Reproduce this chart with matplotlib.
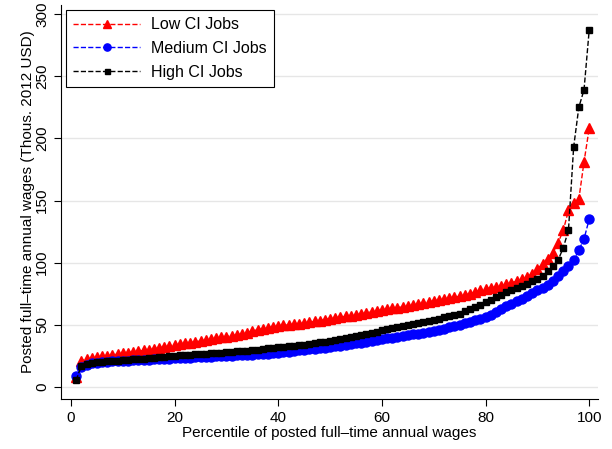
import numpy as np
import matplotlib.pyplot as plt

plt.rcParams['font.family'] = ['Liberation Sans', 'DejaVu Sans']

# percentiles 1..100
pct = list(range(1, 101))

low_ci = [8, 21, 22.5, 23, 24, 24.5, 25, 25.8, 26.4, 27,
          27.6, 28.2, 28.8, 29.4, 30, 30.7, 31.4, 32.1, 33, 33.7,
          34.4, 35, 35.7, 36.3, 37, 37.7, 38.4, 39.1, 39.8, 40.5,
          41.2, 41.9, 42.6, 43.8, 45, 46, 47, 47.8, 48.4, 49,
          49.5, 50, 50.5, 51, 51.5, 52, 52.7, 53.4, 54.2, 55,
          55.6, 56.2, 56.8, 57.4, 58, 58.8, 59.6, 60.4, 61.2, 62,
          62.6, 63.2, 63.8, 64.4, 65, 65.8, 66.6, 67.6, 68.5, 69.2,
          69.9, 70.6, 71.4, 72.2, 73, 74, 75, 76.5, 78, 79,
          79.7, 80.4, 81.2, 82.6, 84, 85, 86.5, 88.5, 91, 95,
          99, 103, 108, 116, 126, 142, 148, 151, 181, 208]

med_ci = [9, 16, 18, 19, 19.5, 20, 20.3, 20.6, 20.8, 21,
          21.2, 21.4, 21.6, 21.8, 22, 22.2, 22.4, 22.6, 22.8, 23,
          23.2, 23.4, 23.6, 23.8, 24, 24.2, 24.4, 24.6, 24.8, 25,
          25.2, 25.4, 25.6, 25.8, 26, 26.3, 26.6, 26.9, 27.2, 27.5,
          28, 28.5, 29, 29.5, 30, 30.4, 30.8, 31.2, 31.6, 32,
          32.6, 33.2, 33.8, 34.4, 35, 35.7, 36.4, 37.1, 37.8, 38.5,
          39.1, 39.7, 40.3, 40.9, 41.5, 42.2, 42.9, 43.6, 44.3, 45,
          46, 47, 48, 49, 50, 51.2, 52.4, 53.6, 54.8, 56,
          58, 60, 62.5, 65, 67, 69, 71, 73, 75.5, 78,
          80, 82, 85, 89, 93, 97, 102, 110, 119, 135]

high_ci = [5.5, 17, 18.5, 19.3, 20, 20.3, 20.6, 20.9, 21.2, 21.5,
           21.8, 22.1, 22.4, 22.7, 23, 23.4, 23.8, 24.2, 24.6, 25,
           25.3, 25.6, 25.9, 26.2, 26.5, 26.8, 27.1, 27.4, 27.7, 28,
           28.3, 28.6, 28.9, 29.2, 29.5, 30, 30.5, 31, 31.5, 32,
           32.4, 32.8, 33.2, 33.6, 34, 34.6, 35.2, 35.8, 36.4, 37,
           37.8, 38.6, 39.4, 40.2, 41, 41.9, 42.8, 43.7, 44.6, 45.5,
           46.3, 47.1, 47.9, 48.7, 49.5, 50.4, 51.3, 52.2, 53.1, 54,
           55, 56, 57, 58, 59, 60.7, 62.4, 64.2, 66, 68,
           70, 72, 74, 76, 78, 79.5, 81, 83, 85, 87,
           89, 93, 97, 102, 112, 126, 193, 225, 239, 287]

xticks = [0, 20, 40, 60, 80, 100]
yticks = [0, 50, 100, 150, 200, 250, 300]

fig = plt.figure(figsize=(6.12, 4.49), dpi=100)
ax = fig.add_axes([61/612, 1 - 399/449, (598 - 61)/612, (399 - 5)/449])

ax.plot(pct, low_ci, color='red', ls='--', lw=1, marker='^', ms=6.5, label='Low CI Jobs')
ax.plot(pct, med_ci, color='blue', ls='--', lw=1, marker='o', ms=6.5, label='Medium CI Jobs')
ax.plot(pct, high_ci, color='black', ls='--', lw=1, marker='s', ms=4.5, label='High CI Jobs')

ax.set_xlim(-1.93, 101.7)
ax.set_ylim(-9.7, 307.3)
ax.set_xticks(xticks)
ax.set_yticks(yticks)
ax.tick_params(labelsize=11, length=5, width=0.8, direction='out')
for lab in ax.get_yticklabels():
    lab.set_rotation(90)
    lab.set_va('center')
ax.yaxis.grid(True, color='#e6e6e6', lw=1)
ax.set_axisbelow(True)
for s in ['top', 'right']:
    ax.spines[s].set_visible(False)

ax.set_xlabel('Percentile of posted full\u2013time annual wages', fontsize=11, labelpad=1)
ax.set_ylabel('Posted full\u2013time annual wages (Thous. 2012 USD)', fontsize=11, labelpad=0)

leg = ax.legend(loc='upper left', bbox_to_anchor=(66/612, 1 - 10/449), bbox_transform=fig.transFigure,
                borderaxespad=0, fancybox=False, edgecolor='black', fontsize=11.5,
                handlelength=4.2, handletextpad=0.7, labelspacing=0.55, borderpad=0.45,
                framealpha=1, markerscale=0.8)
leg.get_frame().set_linewidth(0.8)

fig.savefig('out.png', dpi=100)
